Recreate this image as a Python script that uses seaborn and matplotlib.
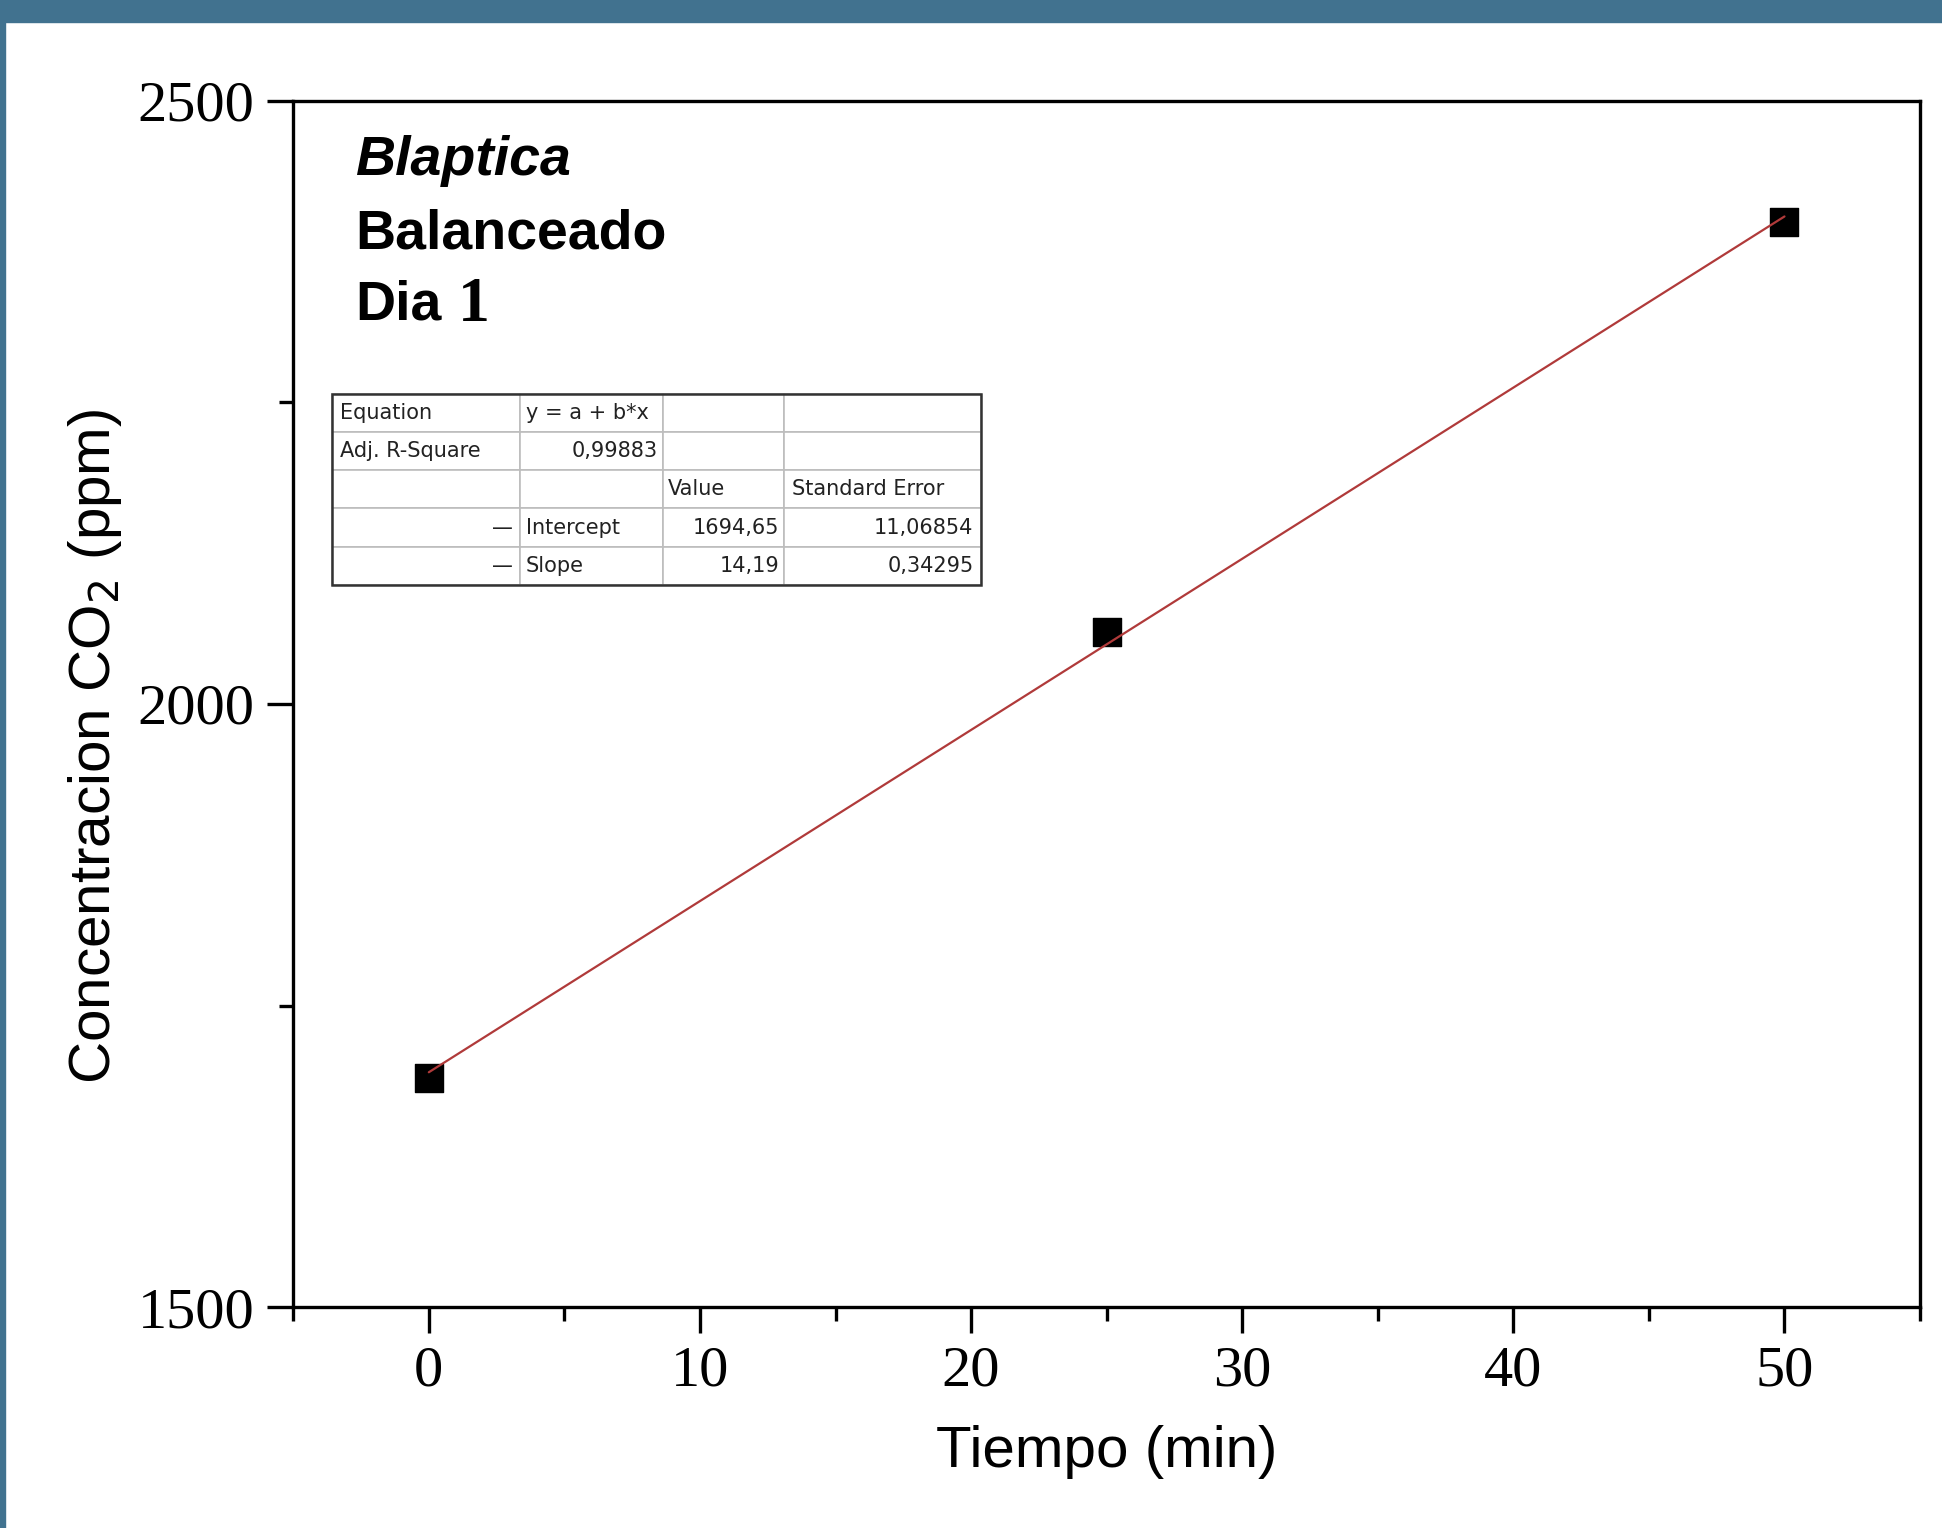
import matplotlib
matplotlib.use("Agg")
import matplotlib.pyplot as plt
import seaborn as sns
import pandas as pd
from matplotlib.patches import Rectangle

# Données
tiempo = [0, 25, 50]
co2 = [1689.7, 2059.3, 2399.2]

x_ticks = [0, 10, 20, 30, 40, 50]
y_ticks = [1500, 2000, 2500]

table_rows = [
    ["Equation", "y = a + b*x", "", ""],
    ["Adj. R-Square", "0,99883", "", ""],
    ["", "", "Value", "Standard Error"],
    ["\u2014", "Intercept", "1694,65", "11,06854"],
    ["\u2014", "Slope", "14,19", "0,34295"],
]
table_align = [
    ["left", "left", "left", "left"],
    ["left", "right", "left", "left"],
    ["left", "left", "left", "left"],
    ["right", "left", "right", "right"],
    ["right", "left", "right", "right"],
]

df = pd.DataFrame({"tiempo": tiempo, "co2": co2})

sns.set_style("white")
plt.rcParams["font.family"] = ["Liberation Sans", "DejaVu Sans"]
plt.rcParams["text.color"] = "black"
plt.rcParams["axes.labelcolor"] = "black"
plt.rcParams["xtick.color"] = "black"
plt.rcParams["ytick.color"] = "black"

fig = plt.figure(figsize=(19.42, 15.28), dpi=100)
fig.patch.set_facecolor("white")
# bandeau bleu en haut et à gauche
fig.patches.append(Rectangle((0, 0.9856), 1, 0.0144, transform=fig.transFigure,
                             color="#41728f", zorder=0))
fig.patches.append(Rectangle((0, 0), 0.0028, 1, transform=fig.transFigure,
                             color="#41728f", zorder=0))

ax = fig.add_axes([0.151, 0.1446, 0.8377, 0.7894])

sns.regplot(data=df, x="tiempo", y="co2", ax=ax, ci=None,
            marker="s",
            scatter_kws={"s": 420, "color": "black", "edgecolor": "black",
                         "alpha": 1, "zorder": 2},
            line_kws={"color": "#b03a3a", "lw": 1.6, "zorder": 3})

ax.set_xlim(-5, 55)
ax.set_ylim(1500, 2500)
ax.set_xticks(x_ticks)
ax.set_yticks(y_ticks)
ax.set_xticks([-5, 5, 15, 25, 35, 45, 55], minor=True)
ax.set_yticks([1750, 2250], minor=True)

for sp in ax.spines.values():
    sp.set_visible(True)
    sp.set_color("black")
    sp.set_linewidth(2.4)

ax.tick_params(which="both", direction="out", bottom=True, left=True,
               top=False, right=False, width=2.4, color="black")
ax.tick_params(which="major", length=19, pad=9)
ax.tick_params(which="minor", length=10)
for lab in ax.get_xticklabels() + ax.get_yticklabels():
    lab.set_fontfamily("Liberation Serif")
    lab.set_fontsize(42)
    lab.set_color("black")

ax.set_xlabel("Tiempo (min)", fontsize=42, color="black")
ax.set_ylabel("Concentracion CO$_2$ (ppm)", fontsize=42, color="black")
ax.xaxis.set_label_coords(0.5, -0.098)
ax.yaxis.set_label_coords(-0.104, 0.465)

# Titre dans le graphique
ax.text(0.038, 0.95, "Blaptica", transform=ax.transAxes, fontsize=40,
        fontweight="bold", fontstyle="italic", va="center", ha="left", color="black")
ax.text(0.038, 0.889, "Balanceado", transform=ax.transAxes, fontsize=40,
        fontweight="bold", va="center", ha="left", color="black")
ax.text(0.038, 0.83, "Dia", transform=ax.transAxes, fontsize=40,
        fontweight="bold", va="center", ha="left", color="black")
ax.text(0.1015, 0.83, "1", transform=ax.transAxes, fontsize=46,
        fontweight="bold", fontfamily="Liberation Serif", va="center", ha="left",
        color="black")

# Tableau des résultats de l'ajustement
col_w = [0.2897, 0.2203, 0.1864, 0.3035]
tbl = ax.table(cellText=table_rows, colWidths=col_w,
               bbox=[0.024, 0.5987, 0.399, 0.1584], zorder=4)
tbl.auto_set_font_size(False)
for (r, c), cell in tbl.get_celld().items():
    cell.set_edgecolor("#bdbdbd")
    cell.set_linewidth(1.2)
    cell.set_facecolor("white")
    t = cell.get_text()
    t.set_fontsize(15)
    t.set_fontfamily("DejaVu Sans")
    t.set_color("#222222")
    t.set_ha(table_align[r][c])
    cell._loc = table_align[r][c]
    cell.PAD = 0.04
ax.add_patch(Rectangle((0.024, 0.5987), 0.399, 0.1584, transform=ax.transAxes,
                       fill=False, edgecolor="#333333", lw=1.8, zorder=5))

fig.savefig("out.png", dpi=100)
